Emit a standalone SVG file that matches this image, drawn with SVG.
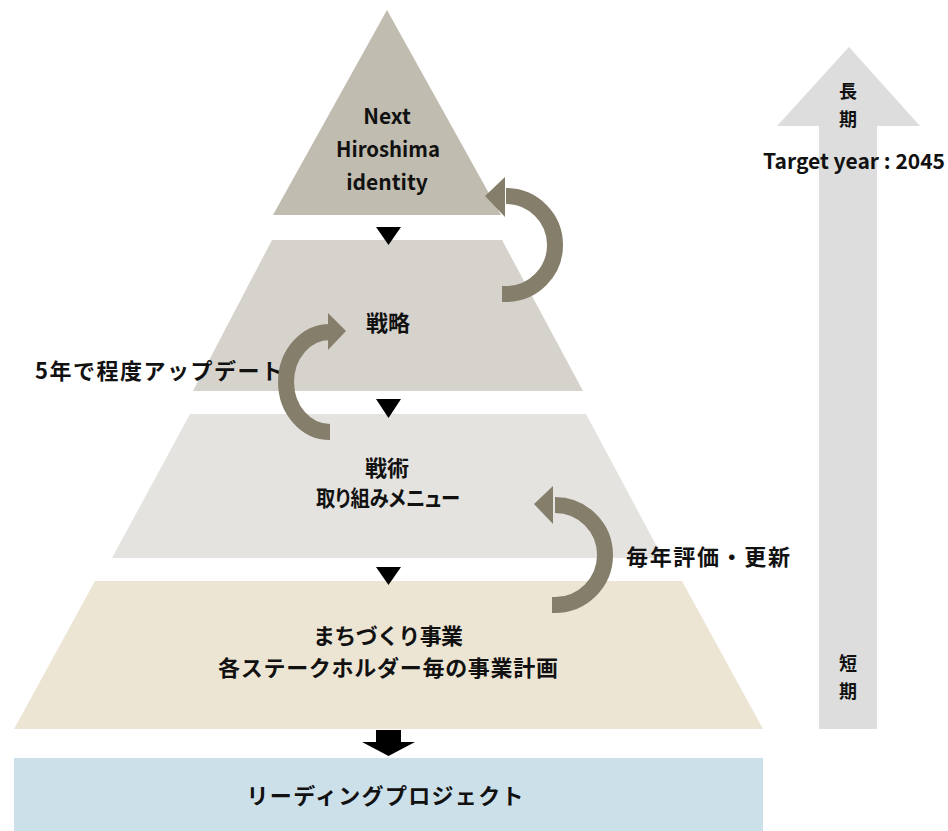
<svg xmlns="http://www.w3.org/2000/svg" width="948" height="831" viewBox="0 0 948 831">
<style>
.t{font-family:"Noto Sans CJK JP","Noto Sans",sans-serif;font-weight:700;fill:#111;text-anchor:middle}
.f22{font-size:22px}
.f21{font-size:21px}
.f18{font-size:18px}
.arc{fill:none;stroke:#857e6b;stroke-width:16}
.ah{fill:#857e6b}
.tri{fill:#000}
</style>
<rect width="948" height="831" fill="#fff"/>
<g id="timeline">
<polygon points="849,47 920,126 877,126 877,729 819,729 819,126 777,126" fill="#dcdddc"/>
<text class="t f18" x="848" y="98">長</text>
<text class="t f18" x="848" y="126">期</text>
<text class="t f21" x="854" y="169" textLength="182" lengthAdjust="spacingAndGlyphs">Target year : 2045</text>
<text class="t f18" x="848" y="670">短</text>
<text class="t f18" x="848" y="698">期</text>
</g>
<g id="level1">
<polygon points="387,10 501,215 273,215" fill="#c0bcb0"/>
<text class="t f21" x="387" y="124">Next</text>
<text class="t f21" x="388" y="157" textLength="104" lengthAdjust="spacingAndGlyphs">Hiroshima</text>
<text class="t f21" x="387" y="190">identity</text>
</g>
<g id="level2">
<polygon points="272,240 502,240 583,391 193,391" fill="#d6d2cc"/>
<text class="t f22" x="388" y="331">戦略</text>
</g>
<g id="level3">
<polygon points="190,414 586,414 663,558 112,558" fill="#e4e3df"/>
<text class="t f22" x="387" y="476">戦術</text>
<text class="t f22" x="388" y="506" style="font-feature-settings:'palt'" textLength="144" lengthAdjust="spacingAndGlyphs">取り組みメニュー</text>
</g>
<g id="level4">
<polygon points="95,581 682,581 763,729 14,729" fill="#ede5d4"/>
<text class="t f22" x="388" y="644" textLength="150" lengthAdjust="spacing">まちづくり事業</text>
<text class="t f22" x="388" y="676" textLength="340" lengthAdjust="spacing">各ステークホルダー毎の事業計画</text>
</g>
<g id="leading">
<rect x="14" y="758" width="749" height="73" fill="#cce0ea"/>
<text class="t f22" x="385" y="804" textLength="277" lengthAdjust="spacing">リーディングプロジェクト</text>
</g>
<g id="labels">
<text class="t f22" x="159" y="379" textLength="248" lengthAdjust="spacing">5年で程度アップデート</text>
<text class="t f22" x="708" y="565" textLength="164" lengthAdjust="spacing">毎年評価・更新</text>
</g>
<g id="connectors">
<polygon class="tri" points="376,227 401,227 388.5,245"/>
<polygon class="tri" points="376,399 401,399 388.5,418"/>
<polygon class="tri" points="376,567 401,567 388.5,585"/>
<polygon class="tri" points="376,730 401,730 401,742 415,742 388.5,756 362,742 376,742"/>
<path class="arc" d="M502,294 L506,294 A49,49 0 0 0 506,196"/>
<polygon class="ah" points="505,177 505,217 485,196"/>
<path class="arc" d="M330,432 A44,50 0 0 1 330,332"/>
<polygon class="ah" points="328,313 328,350 346,331"/>
<path class="arc" d="M552,605 L555,605 A50,50 0 0 0 555,505"/>
<polygon class="ah" points="553,486 553,524 534,504"/>
</g>
</svg>
